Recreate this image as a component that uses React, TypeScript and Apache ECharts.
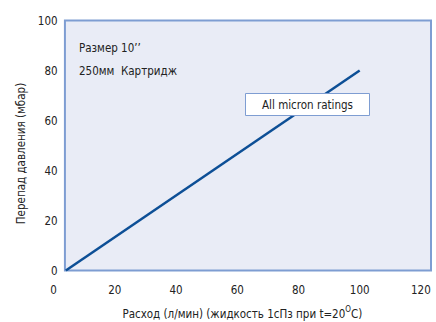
import React, { useEffect, useRef } from "react";
import * as echarts from "echarts";

const flowValues: number[] = [4, 100];
const pressureValues: number[] = [0, 80];
const xTicks: number[] = [0, 20, 40, 60, 80, 100, 120];
const yTicks: number[] = [0, 20, 40, 60, 80, 100];
const frameX: number[] = [3.7, 123.3];
const frameY: number[] = [0, 100];
const noteLines: string[] = ["Размер 10’’", "250мм  Картридж"];
const boxLabel = "All micron ratings";
const xTitle = "Расход (л/мин) (жидкость 1сПз при t=20";
const yTitle = "Перепад давления (мбар)";

const FONT = "'Liberation Sans Narrow', 'Arial Narrow', 'DejaVu Sans Condensed', sans-serif";
const FS = 11.5;

export default function App() {
  const ref = useRef<HTMLDivElement>(null);
  useEffect(() => {
    if (!ref.current) return;
    const chart = echarts.init(ref.current, undefined, { renderer: "svg" });
    const data = flowValues.map((x, i) => [x, pressureValues[i]]);
    chart.setOption({
      animation: false,
      textStyle: { fontFamily: FONT },
      grid: { left: 53.6, right: 5, top: 20.5, bottom: 51.5, containLabel: false, outerBoundsMode: "none" },
      xAxis: {
        type: "value",
        min: 0,
        max: frameX[1],
        interval: 20,
        axisLine: { show: false },
        axisTick: { show: false },
        splitLine: { show: false },
        axisLabel: {
          margin: 13,
          fontSize: FS,
          color: "#222",
          fontFamily: FONT,
          formatter: (v: number) => (xTicks.includes(v) ? String(v) : ""),
        },
        name: "{a|" + xTitle + "}{s|O}{a|C)}",
        nameLocation: "middle",
        nameGap: 35,
        nameTextStyle: {
          rich: {
            a: { fontSize: FS, color: "#222", fontFamily: FONT, verticalAlign: "bottom", lineHeight: 14 },
            s: { fontSize: 8, color: "#222", fontFamily: FONT, verticalAlign: "top", lineHeight: 14, padding: [0, 0, 6, 0] },
          },
        },
      },
      yAxis: {
        type: "value",
        min: 0,
        max: 100,
        interval: 20,
        axisLine: { show: false },
        axisTick: { show: false },
        splitLine: { show: false },
        axisLabel: {
          margin: -4,
          fontSize: FS,
          color: "#222",
          fontFamily: FONT,
          formatter: (v: number) => (yTicks.includes(v) ? String(v) : ""),
        },
        name: yTitle,
        nameLocation: "middle",
        nameGap: 27,
        nameTextStyle: { fontSize: FS, color: "#222", fontFamily: FONT, padding: [0, 16, 0, 0] },
      },
      series: [
        {
          type: "line",
          data,
          symbol: "none",
          lineStyle: { color: "#0d4f96", width: 2.5 },
          z: 5,
          markArea: {
            silent: true,
            itemStyle: { color: "#e9ecf6", borderColor: "#7e9dd2", borderWidth: 2 },
            data: [[{ coord: [frameX[0], frameY[0]] }, { coord: [frameX[1], frameY[1]] }]],
          },
        },
      ],
      graphic: [
        {
          type: "text",
          left: 79,
          top: 41.5,
          z: 10,
          style: { text: noteLines[0], fontSize: FS, fill: "#222", fontFamily: FONT },
        },
        {
          type: "text",
          left: 79,
          top: 64.5,
          z: 10,
          style: { text: noteLines[1], fontSize: FS, fill: "#222", fontFamily: FONT },
        },
        {
          type: "rect",
          shape: { x: 245.5, y: 93.5, width: 124, height: 22 },
          z: 10,
          style: { fill: "#ffffff", stroke: "#7e9dd2", lineWidth: 1 },
        },
        {
          type: "text",
          x: 307.5,
          y: 104.5,
          z: 11,
          style: { text: boxLabel, fontSize: FS, fill: "#222", fontFamily: FONT, align: "center", verticalAlign: "middle" },
        },
      ],
    });
    return () => chart.dispose();
  }, []);
  return <div ref={ref} style={{ width: 436, height: 322, position: "absolute", left: 0, top: 0 }} />;
}
